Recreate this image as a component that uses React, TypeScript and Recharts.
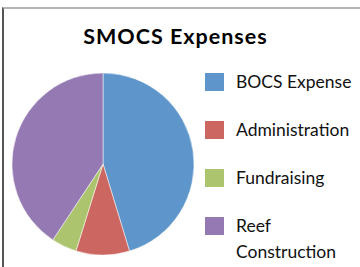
import { PieChart, Pie, Cell } from "recharts";

const categories = ["BOCS Expense", "Administration", "Fundraising", "Reef Construction"];
const values = [45.3, 9.5, 4.5, 40.7];
const colors = ["#5E96CB", "#CC6660", "#ACC46E", "#9479B2"];

const data = categories.map((name, i) => ({ name, value: values[i] }));

function LegendBox() {
  return (
    <div
      style={{
        position: "absolute",
        left: 205,
        top: 69,
        width: 155,
        fontFamily: "Lato",
        fontSize: 17.5,
        color: "#111",
      }}
    >
      {categories.map((name, i) => (
        <div key={name} style={{ display: "flex", alignItems: "flex-start", marginBottom: 22 }}>
          <div
            style={{
              width: 19,
              height: 18,
              marginTop: 4,
              marginRight: 12,
              background: colors[i],
              flexShrink: 0,
            }}
          />
          <div style={{ width: 120, lineHeight: "26px" }}>{name}</div>
        </div>
      ))}
    </div>
  );
}

export default function App() {
  return (
    <div style={{ position: "relative", width: 360, height: 267, background: "#fff", overflow: "hidden" }}>
      <style>{"body{margin:0}"}</style>
      <div
        style={{
          position: "absolute",
          left: 2,
          top: 7,
          width: 358,
          height: 260,
          borderTop: "2px solid #b4b4b4",
          borderLeft: "2px solid #555",
          boxSizing: "border-box",
        }}
      />
      <div
        style={{
          position: "absolute",
          top: 26,
          left: 0,
          width: 351,
          textAlign: "center",
          fontFamily: "Lato",
          fontWeight: 700,
          fontSize: 21.5,
          letterSpacing: 1,
          lineHeight: "21px",
          color: "#000",
        }}
      >
        SMOCS Expenses
      </div>
      <PieChart
        width={360}
        height={267}
        margin={{ top: 0, right: 0, bottom: 0, left: 0 }}
        style={{ position: "absolute", left: 0, top: 0 }}
      >
        <Pie
          data={data}
          dataKey="value"
          nameKey="name"
          cx={103}
          cy={164}
          outerRadius={91}
          startAngle={90}
          endAngle={-270}
          stroke="#fff"
          strokeWidth={0.5}
          isAnimationActive={false}
        >
          {data.map((d, i) => (
            <Cell key={d.name} fill={colors[i]} />
          ))}
        </Pie>
      </PieChart>
      <LegendBox />
    </div>
  );
}
